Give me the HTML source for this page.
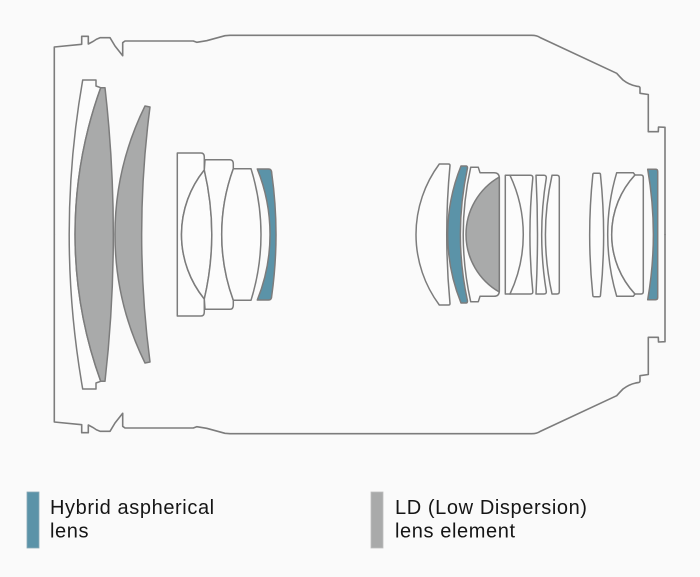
<!DOCTYPE html>
<html>
<head>
<meta charset="utf-8">
<style>
  html, body { margin: 0; padding: 0; background: #fafafa; }
  body { width: 700px; height: 577px; overflow: hidden; }
  svg { display: block; }
  .o { fill: none; stroke: #7c7c7c; stroke-width: 1.6; stroke-linejoin: round; stroke-linecap: round; }
  .w { fill: #fcfcfc; stroke: #7c7c7c; stroke-width: 1.5; stroke-linejoin: round; }
  .g { fill: #a9aaaa; stroke: #7c7c7c; stroke-width: 1.5; stroke-linejoin: round; }
  .b { fill: #5b93a8; stroke: #7c7c7c; stroke-width: 1.5; stroke-linejoin: round; }
  .t { font-family: "Liberation Sans", Arial, sans-serif; font-size: 20px; fill: #151515; letter-spacing: 0.6px; }
</style>
</head>
<body>
<svg width="700" height="577" viewBox="0 0 700 577" xmlns="http://www.w3.org/2000/svg">
  <rect x="0" y="0" width="700" height="577" fill="#fafafa"/>

  <!-- Barrel outline (top half, mirrored) -->
  <path id="barrel" class="o" d="M54.3,234.5 L54.3,47 L81.7,44.3 L81.7,36.3 L88.3,36.3 L88.3,44 L93.3,41.3 Q96,39 100,37.7 L110,37.7 L115,46 L122.7,55.7 L122.7,42.7 L125,41 L193.3,41 L196.7,42.3 L206.7,40.7 L225,35.7 L230,35.3 L531.7,35.3 Q537,35.3 540,37.5 L616.7,73.3 Q620,77 623,80 Q630,85.5 639,86.6 Q640,87 640,88 L640,93.3 L648.3,94.5 L648.3,131.7 L658.3,131.7 L658.5,127 L665,127.3 L665,234.5"/>
  <use href="#barrel" transform="matrix(1,0,0,-1,0,469)"/>

  <!-- Group 1: cemented meniscus (white + LD gray) -->
  <path class="w" d="M82.7,80 L96,80 L96,86 L100.7,87.7 A433,433 0 0 0 100.7,381.3 L96,383 L96,389 L82.7,389 A897,897 0 0 1 82.7,80 Z"/>
  <path class="g" d="M100.7,87.7 L105,87.7 A1302,1302 0 0 1 105,381.3 L100.7,381.3 A433,433 0 0 1 100.7,87.7 Z"/>

  <!-- Lens 2: LD gray meniscus -->
  <path class="g" d="M145,106 L150,107 A983,983 0 0 0 150,362 L145,363 A290,290 0 0 1 145,106 Z"/>

  <!-- Group 2 -->
  <path class="w" d="M177.3,153 L201,153 Q204.3,153 204.3,157 L204.3,170 A102.6,102.6 0 0 0 204.3,299 L204.3,312 Q204.3,316 201,316 L177.3,316 Z"/>
  <path class="w" d="M204.3,170 A102.6,102.6 0 0 0 204.3,299 A284.8,284.8 0 0 0 204.3,170 Z"/>
  <path class="w" d="M205,159.7 L230,159.7 Q233.3,159.7 233.3,164 L233.3,168.7 A192.4,192.4 0 0 0 233.3,300.3 L233.3,305 Q233.3,309.3 230,309.3 L205,309.3 L204.3,299 A284.8,284.8 0 0 0 204.3,170 Z"/>
  <path class="w" d="M233.3,168.7 L251,168.7 A221.5,221.5 0 0 1 251,300.3 L233.3,300.3 A192.4,192.4 0 0 1 233.3,168.7 Z"/>
  <path class="b" d="M257.3,169 L268.5,169 Q271.7,169 271.7,173 A442,442 0 0 1 271.7,296 Q271.7,300 268.5,300 L257.3,300 A175,175 0 0 0 257.3,169 Z"/>

  <!-- Middle group -->
  <path class="w" d="M439.3,164 L448.5,164 Q450,164 450,165.5 A733,733 0 0 0 450,303.5 Q450,305 448.5,305 L439.3,305 A118.3,118.3 0 0 1 439.3,164 Z"/>
  <path class="b" d="M461,166 L466,166 Q467.5,166 467.5,168 A316.5,316.5 0 0 0 467.5,301 Q467.5,303 466,303 L461,303 A183,183 0 0 1 461,166 Z"/>
  <path class="w" d="M470.7,167.3 L478.3,167.3 L480,172.7 L494,172.7 Q499.3,172.7 499.3,178 L499.3,291 Q499.3,296.3 494,296.3 L480,296.3 L478.3,301.7 L470.7,301.7 A309,309 0 0 1 470.7,167.3 Z"/>
  <path class="g" d="M499.3,177 A66.3,66.3 0 0 0 499.3,292 Z"/>

  <path class="w" d="M505.3,175.3 L530.5,175.3 Q533,175.3 532.8,178 A562,562 0 0 0 532.8,291.5 Q533,294 530.5,294 L505.3,294 Z"/>
  <path class="o" style="stroke-width:1.5" d="M510,175.3 A139.3,139.3 0 0 1 510,294"/>

  <path class="w" d="M536,175.3 L544,175.3 Q546.5,175.3 546.3,178 A353,353 0 0 0 546.3,291.5 Q546.5,294 544,294 L536,294 A1180,1180 0 0 0 536,175.3 Z"/>
  <path class="w" d="M552,175.3 L557,175.3 Q559.3,175.3 559.3,178 L559.3,291.5 Q559.3,294 557,294 L552,294 A274.6,274.6 0 0 1 552,175.3 Z"/>

  <!-- Right group -->
  <path class="w" d="M594,173.3 L599.3,173.3 Q600.5,173.3 600.5,175 A578,578 0 0 1 600.5,295 Q600.5,296.7 599.3,296.7 L594,296.7 Q592.8,296.7 592.8,295 A578,578 0 0 1 592.8,175 Q592.8,173.3 594,173.3 Z"/>
  <path class="w" d="M616.7,172.7 L633.3,172.7 L635,175 A87.6,87.6 0 0 0 635,294 L633.3,296.3 L616.7,296.3 A216.7,216.7 0 0 1 616.7,172.7 Z"/>
  <path class="w" d="M635,175 L641,175 Q643.3,175 643.3,177.5 L643.3,291.5 Q643.3,294 641,294 L635,294 A87.6,87.6 0 0 1 635,175 Z"/>
  <path class="b" d="M647.7,169.3 L655.5,169.3 Q657.7,169.3 657.7,171.5 L657.7,297.5 Q657.7,299.7 655.5,299.7 L647.7,299.7 A382,382 0 0 0 647.7,169.3 Z"/>

  <!-- Legend -->
  <rect x="27" y="492" width="12" height="56" fill="#5b93a8" stroke="#8aa9b6" stroke-width="0.8"/>
  <text class="t" x="50" y="514">Hybrid aspherical</text>
  <text class="t" x="50" y="537.5">lens</text>

  <rect x="371" y="492" width="12" height="56" fill="#a9aaaa" stroke="#bdbdbd" stroke-width="0.8"/>
  <text class="t" x="395" y="514">LD (Low Dispersion)</text>
  <text class="t" x="395" y="537.5">lens element</text>
</svg>
</body>
</html>
